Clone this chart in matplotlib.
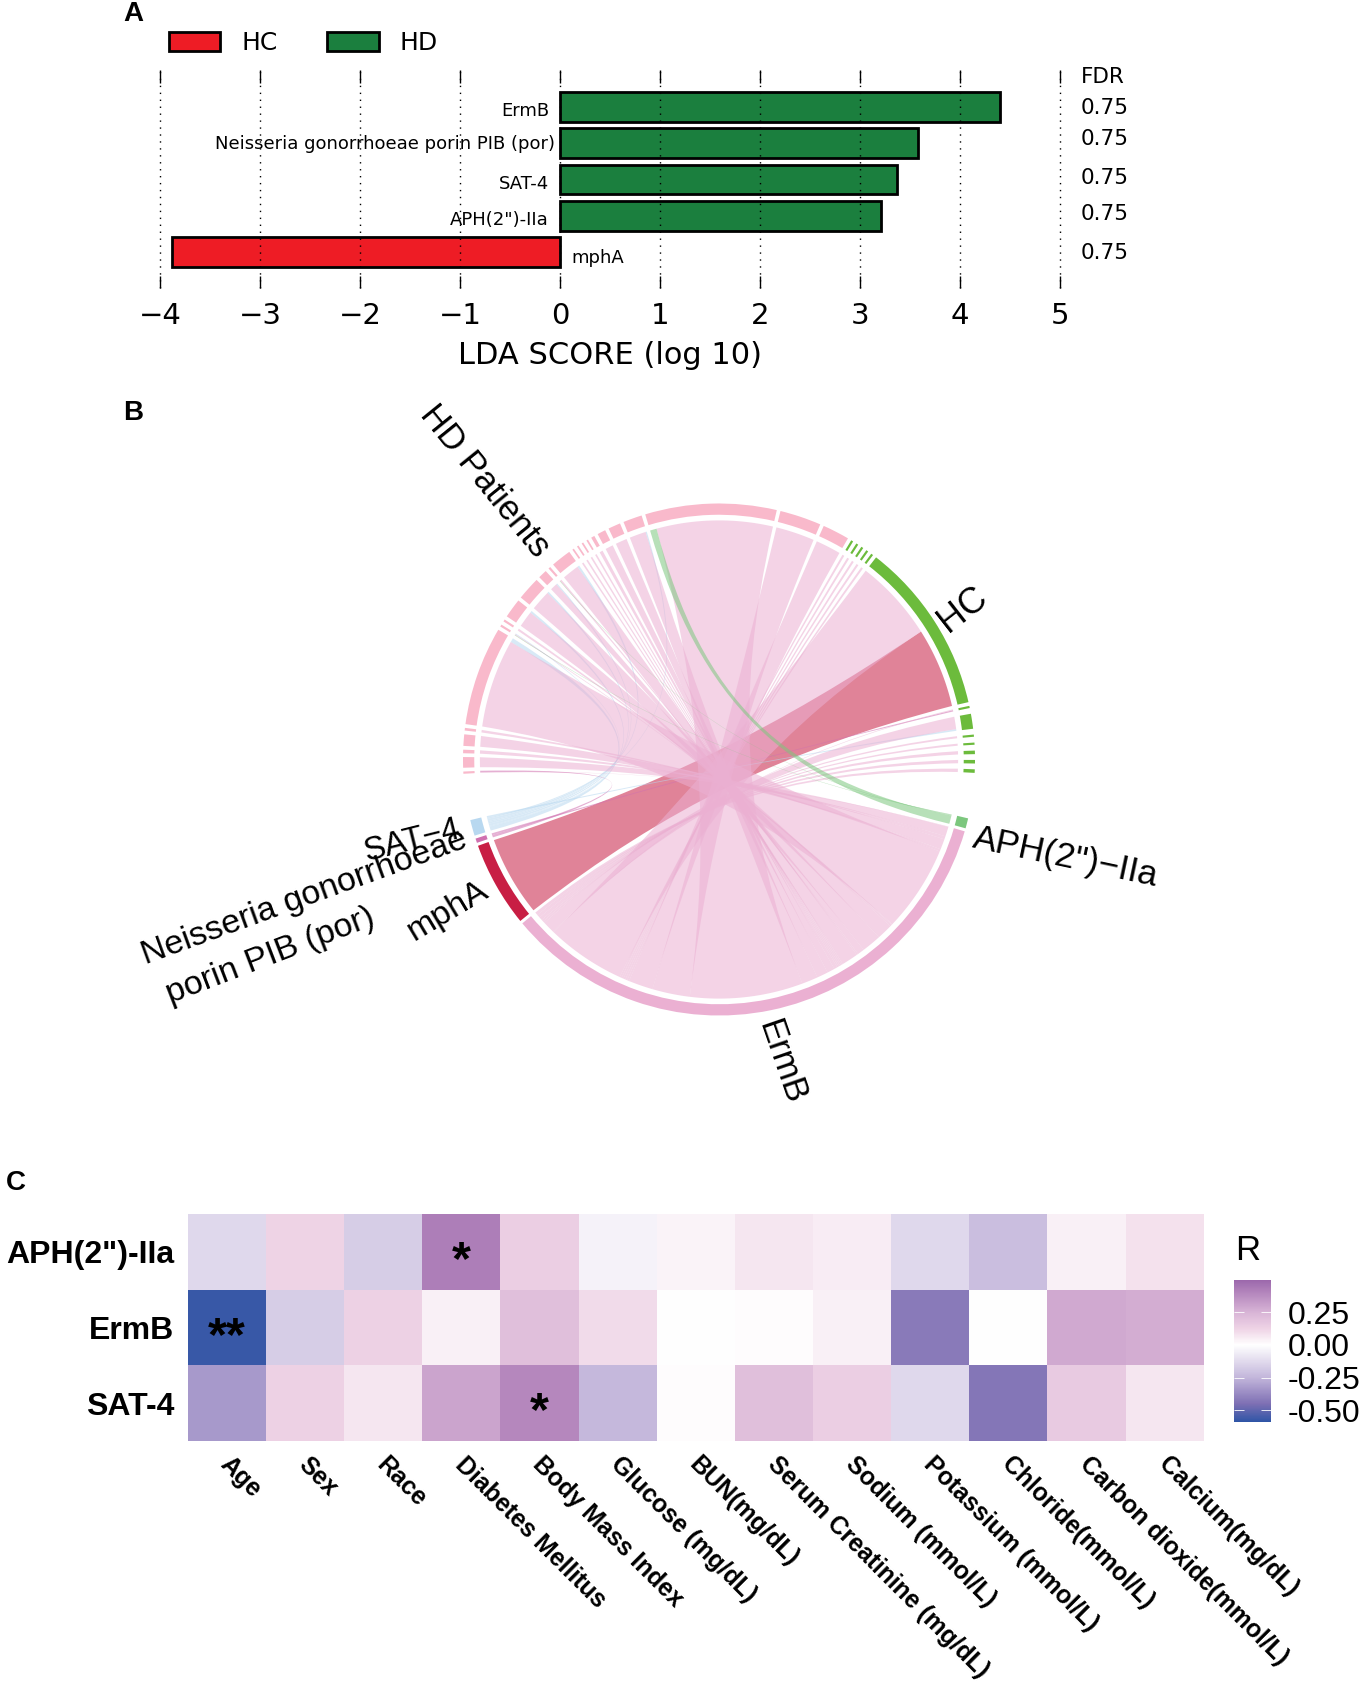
import numpy as np
import matplotlib
matplotlib.use("Agg")
import matplotlib.pyplot as plt
from matplotlib.patches import Patch, PathPatch, Wedge
from matplotlib.path import Path
from matplotlib.colors import LinearSegmentedColormap, Normalize
from matplotlib.transforms import ScaledTranslation

W, H = 1366, 1682
SANS = "Liberation Sans"

# panel A
lda_names = ["ErmB", "Neisseria gonorrhoeae porin PIB (por)", "SAT-4", "APH(2\")-IIa", "mphA"]
lda_scores = [4.40, 3.58, 3.37, 3.21, -3.88]
lda_groups = ["HD", "HD", "HD", "HD", "HC"]
lda_fdr = ["0.75", "0.75", "0.75", "0.75", "0.75"]
lda_ticks = [-4, -3, -2, -1, 0, 1, 2, 3, 4, 5]

hd_sizes = [0.5, 2.4, 0.8, 2.6, 0.6, 22.5, 0.5, 0.5, 4.4, 5.3, 2.0, 0.5, 4.6,
            0.4, 0.4, 0.4, 0.4, 0.8, 1.9, 2.8, 4.3, 29.8, 9.4, 6.1]
hc_sizes = [0.5, 0.5, 0.5, 0.5, 0.5, 39.2, 0.5, 3.4, 0.5, 0.5, 0.8, 0.8, 0.8]
gene_names = ["APH", "ErmB", "mphA", "por", "SAT"]
gene_sizes = [2.3, 123.9, 19.4, 1.0, 3.6]
# (sample, gene, weight); what is left of each sample goes to ErmB
link_sample = [21, 6, 11, 29, 30, 0, 5, 6, 8, 9, 12, 10, 20, 31]
link_gene = [0, 0, 0, 2, 3, 3, 4, 4, 4, 4, 4, 4, 4, 4]
link_weight = [1.6, 0.1, 0.1, 19.4, 0.3, 0.4, 1.0, 0.2, 0.5, 0.4, 0.5, 0.3, 0.3, 0.4]

# panel C
heat_rows = ["APH(2\")-IIa", "ErmB", "SAT-4"]
heat_cols = ["Age", "Sex", "Race", "Diabetes Mellitus", "Body Mass Index", "Glucose (mg/dL)",
             "BUN(mg/dL)", "Serum Creatinine (mg/dL)", "Sodium (mmol/L)", "Potassium (mmol/L)",
             "Chloride(mmol/L)", "Carbon dioxide(mmol/L)", "Calcium(mg/dL)"]
r_aph = [-0.13, 0.12, -0.17, 0.42, 0.14, -0.04, 0.03, 0.07, 0.05, -0.13, -0.22, 0.04, 0.08]
r_ermb = [-0.57, -0.17, 0.13, 0.04, 0.20, 0.10, 0.0, 0.005, 0.04, -0.42, 0.0, 0.28, 0.27]
r_sat = [-0.33, 0.13, 0.07, 0.30, 0.39, -0.24, 0.005, 0.20, 0.14, -0.13, -0.43, 0.16, 0.07]
stars = [(0, 3, "*"), (1, 0, "**"), (2, 4, "*")]
cbar_ticks = [0.25, 0.0, -0.25, -0.5]


def axes_px(x0, y0, x1, y1):
    return fig.add_axes([x0 / W, 1 - y1 / H, (x1 - x0) / W, (y1 - y0) / H])


def text_px(x, y, s, **kw):
    kw.setdefault("family", SANS)
    kw.setdefault("va", "center")
    fig.text(x / W, 1 - y / H, s, **kw)


fig = plt.figure(figsize=(W / 100, H / 100), dpi=100)
fig.patch.set_facecolor("white")

text_px(133, 14, "A", fontsize=20, fontweight="bold", ha="center")
text_px(133, 413, "B", fontsize=20, fontweight="bold", ha="center")
text_px(16, 1183, "C", fontsize=20, fontweight="bold", ha="center")

# ---- A
colors_a = {"HC": "#EE1C25", "HD": "#1B7F3E"}
ax = axes_px(160, 70, 1060, 288)
y_pos = np.arange(len(lda_scores))
ax.barh(y_pos, lda_scores, height=0.82, color=[colors_a[g] for g in lda_groups],
        edgecolor="black", linewidth=2, zorder=2)
ax.set_xlim(-4, 5)
ax.set_ylim(4.99, -1.02)
ax.set_yticks([])
ax.set_xticks(lda_ticks)
ax.set_xticklabels([str(t).replace("-", "\u2212") for t in lda_ticks], fontsize=21)
ax.tick_params(axis="x", direction="in", length=9, width=1, top=True, bottom=True, pad=10)
ax.grid(axis="x", color="black", linestyle=(0, (1, 4)), linewidth=1, zorder=3, clip_on=False)
ax.set_axisbelow(False)
for s in ax.spines.values():
    s.set_visible(False)
text_px(610, 355, "LDA SCORE (log 10)", family="DejaVu Sans", fontsize=22, ha="center")

name_x = [549, 555, 549, 549, 571]
name_y = [111, 144, 184, 220, 258]
fdr_y = [108, 139, 178, 214, 253]
for i, name in enumerate(lda_names):
    text_px(name_x[i], name_y[i], name, family="DejaVu Sans", fontsize=13,
            ha="left" if lda_scores[i] < 0 else "right")
    text_px(1081, fdr_y[i], lda_fdr[i], family="DejaVu Sans", fontsize=15.5)
text_px(1081, 77, "FDR", family="DejaVu Sans", fontsize=15.5)

handles = [Patch(facecolor=colors_a["HC"], edgecolor="black", linewidth=2, label="HC"),
           Patch(facecolor=colors_a["HD"], edgecolor="black", linewidth=2, label="HD")]
fig.legend(handles=handles, loc="center left", bbox_to_anchor=(146 / W, 1 - 43 / H), ncol=2,
           frameon=False, prop={"family": "DejaVu Sans", "size": 18}, handlelength=2.05,
           handleheight=0.8, handletextpad=0.85, columnspacing=2.0)

# ---- B
RING_OUT, RING_IN, LINK_R = 1.0, 0.956, 0.934
HD_COL, HC_COL = "#F9B9CB", "#6CBB3C"
gene_cols = ["#7CC77E", "#EBB0D2", "#C81E44", "#D070B0", "#B8D8F0"]
R_PX = 256
CX, CY = 719, 759.5
ax = axes_px(CX - 300, CY - 300, CX + 300, CY + 300)
ax.set_xlim(-300 / R_PX, 300 / R_PX)
ax.set_ylim(-300 / R_PX, 300 / R_PX)
ax.axis("off")


def layout(sizes, start, gaps):
    spans = []
    a = start
    for s, g in zip(sizes, gaps):
        spans.append((a, a + s))
        a += s + g
    return spans


def circle_xy(deg, r=LINK_R):
    t = np.radians(deg)
    return np.array([r * np.sin(t), r * np.cos(t)])


def arc_pts(a0, a1):
    return [circle_xy(a) for a in np.linspace(a0, a1, 24)]


def ring(span, col):
    # Wedge angles run counter clockwise from east
    ax.add_patch(Wedge((0, 0), RING_OUT, 90 - span[1], 90 - span[0], width=RING_OUT - RING_IN,
                       facecolor=col, edgecolor="none"))


def ribbon(a, b, col, alpha):
    pa = arc_pts(a[0], a[1])
    pb = arc_pts(b[0], b[1])
    hub = np.array([0.0, -0.03])
    pull = 0.28   # how far the control points stay from the hub
    verts = list(pa)
    codes = [Path.MOVETO] + [Path.LINETO] * (len(pa) - 1)
    verts += [hub + pull * (pa[-1] - hub), hub + pull * (pb[0] - hub), pb[0]]
    codes += [Path.CURVE4] * 3
    verts += pb[1:]
    codes += [Path.LINETO] * (len(pb) - 1)
    verts += [hub + pull * (pb[-1] - hub), hub + pull * (pa[0] - hub), pa[0]]
    codes += [Path.CURVE4] * 3
    ax.add_patch(PathPatch(Path(verts, codes), facecolor=col, edgecolor="none", alpha=alpha))


sample_sizes = hd_sizes + hc_sizes
n_before = len(hd_sizes) + 6
sample_gaps = [0.85] * n_before + [1.3] * (len(sample_sizes) - n_before)
sample_spans = layout(sample_sizes, 266.8, sample_gaps)
gene_spans = layout(gene_sizes, 103.3, [0.7] * len(gene_sizes))
for i, sp in enumerate(sample_spans):
    ring(sp, HD_COL if i < len(hd_sizes) else HC_COL)
for i, sp in enumerate(gene_spans):
    ring(sp, gene_cols[i])

# weights per sample, genes in order round the circle
flows = np.zeros((len(sample_sizes), len(gene_sizes)))
for s, g, w in zip(link_sample, link_gene, link_weight):
    flows[s, g] += w
flows[:, 1] = np.array(sample_sizes) - flows.sum(axis=1)

# position of each ribbon inside its sample, clockwise by gene
in_sample = {}
for s, sp in enumerate(sample_spans):
    a = sp[0]
    for g in range(len(gene_sizes)):
        w = flows[s, g]
        if w > 0:
            in_sample[(s, g)] = (a, a + w)
            a += w

# position inside the gene: same direction as the samples, so ribbons cross at the hub
draw_order = [2, 4, 3, 1, 0]
for g in draw_order:
    scale = gene_sizes[g] / flows[:, g].sum()
    a = gene_spans[g][0]
    for s in range(len(sample_sizes)):
        w = flows[s, g] * scale
        if w > 0:
            ribbon(in_sample[(s, g)], (a, a + w), gene_cols[g], 0.55)
            a += w

text_px(485, 481, "HD Patients", fontsize=25, rotation=-51, ha="center", rotation_mode="anchor")
text_px(963, 609, "HC", fontsize=26, rotation=38, ha="center", rotation_mode="anchor")
text_px(1066, 857, "APH(2\")\u2212IIa", fontsize=25.5, rotation=-12, ha="center", rotation_mode="anchor")
text_px(781, 1062, "ErmB", fontsize=25, rotation=-71, ha="center", rotation_mode="anchor")
text_px(448, 911, "mphA", fontsize=24.5, rotation=31, ha="center", rotation_mode="anchor")
text_px(412, 841, "SAT\u22124", fontsize=23.5, rotation=14, ha="center", rotation_mode="anchor")
text_px(304, 898, "Neisseria gonorrhoeae", fontsize=24.5, rotation=20, ha="center", rotation_mode="anchor")
text_px(270, 956, "porin PIB (por)", fontsize=24.5, rotation=21, ha="center", rotation_mode="anchor")

# ---- C
vmin, vmax = -0.59, 0.495
nodes = [-0.59, -0.45, -0.25, 0.0, 0.12, 0.25, 0.495]
node_cols = ["#2F55A6", "#7F70B4", "#C3B6DB", "#FFFFFF", "#EFD4E6", "#D8B4D6", "#9C68AC"]
cmap = LinearSegmentedColormap.from_list(
    "r_map", [((n - vmin) / (vmax - vmin), c) for n, c in zip(nodes, node_cols)])
norm = Normalize(vmin, vmax)

heat = np.array([r_aph, r_ermb, r_sat])
ax = axes_px(188, 1214, 1204, 1441)
im = ax.imshow(heat, cmap=cmap, norm=norm, aspect="auto")
ax.set_yticks(range(len(heat_rows)))
ax.set_yticklabels(heat_rows, family=SANS, fontsize=23, fontweight="bold")
ax.set_xticks(range(len(heat_cols)))
ax.set_xticklabels(heat_cols, family=SANS, fontsize=17.8, fontweight="bold", rotation=-45,
                   ha="left", va="top", rotation_mode="anchor")
ax.tick_params(length=0, axis="y", pad=10)
ax.tick_params(length=0, axis="x", pad=8)
for lab in ax.get_xticklabels():
    lab.set_transform(lab.get_transform() + ScaledTranslation(4 / 72, 0, fig.dpi_scale_trans))
for s in ax.spines.values():
    s.set_visible(False)
for r, c, st in stars:
    ax.text(c, r + 0.13, st, family=SANS, fontsize=35, fontweight="bold", ha="center", va="center")

cax = axes_px(1234, 1280, 1271, 1422)
cb = fig.colorbar(im, cax=cax, ticks=cbar_ticks)
cb.outline.set_visible(False)
cb.set_ticklabels(["0.25", "0.00", "-0.25", "-0.50"])
cax.tick_params(direction="in", left=True, right=True, length=7, width=0.6, color="white",
                labelsize=23, labelcolor="black", pad=12)
for lab in cax.get_yticklabels():
    lab.set_family(SANS)
text_px(1235, 1250, "R", fontsize=25)

fig.savefig("out.png", dpi=100)
